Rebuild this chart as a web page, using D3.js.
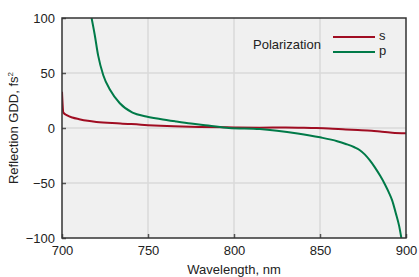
<!DOCTYPE html>
<html>
<head>
<meta charset="utf-8">
<script src="https://cdn.jsdelivr.net/npm/d3@7"></script>
<style>
  body { margin: 0; background: #fff; }
  text { font-family: "Liberation Sans", Arial, sans-serif; fill: #222; }
</style>
</head>
<body>
<div id="chart"></div>
<script>
// Wavelength (nm) / GDD (fs^2)
const sWave = [700, 700.8, 703, 706, 710, 715, 720, 734, 750, 765, 780, 800, 815, 830, 845, 855, 865, 872, 880, 886, 892, 900];
const sGdd = [33, 14, 11.5, 9.5, 8, 6.5, 5.5, 4.2, 2.6, 1.6, 1, 0.5, 0.3, 0.5, 0, -0.4, -1.3, -1.8, -2.5, -3.5, -4.3, -4.8];

const pWave = [717.2, 719, 721, 724, 728, 733.6, 741, 749, 757, 766, 775, 785, 797, 815, 825, 837, 850, 860, 865, 870, 873, 876, 879, 882, 885, 888, 890, 892, 894, 896, 897.3];
const pGdd = [100, 85, 66, 48, 34.5, 22.5, 14, 10.5, 8.2, 6, 4, 2.3, 0, -1, -2.5, -5, -8.5, -12, -14.5, -17.5, -20, -24, -29.5, -36, -43.5, -52, -58.5, -66, -77, -89, -100];

const xTicks = [700, 750, 800, 850, 900];
const yTicks = [-100, -50, 0, 50, 100];

const series = [
  { name: "s", color: "#a00d22", wave: sWave, gdd: sGdd },
  { name: "p", color: "#007a48", wave: pWave, gdd: pGdd }
];

const W = 419, H = 277;
const margin = { top: 18, right: 13, bottom: 39, left: 62 };
const width = W - margin.left - margin.right;
const height = H - margin.top - margin.bottom;

const svg = d3.select("#chart").append("svg")
  .attr("width", W).attr("height", H);
const g = svg.append("g").attr("transform", `translate(${margin.left},${margin.top})`);

const x = d3.scaleLinear().domain([700, 900]).range([0, width]);
const y = d3.scaleLinear().domain([-100, 100]).range([height, 0]);

// plot background
g.append("rect").attr("width", width).attr("height", height).attr("fill", "#f0f0f0");

// grid
g.selectAll(".vgrid").data(xTicks.slice(1, -1)).enter().append("line")
  .attr("x1", d => x(d)).attr("x2", d => x(d)).attr("y1", 0).attr("y2", height)
  .attr("stroke", "#dadada").attr("stroke-width", 1.5);
g.selectAll(".hgrid").data(yTicks.slice(1, -1)).enter().append("line")
  .attr("y1", d => y(d)).attr("y2", d => y(d)).attr("x1", 0).attr("x2", width)
  .attr("stroke", "#dadada").attr("stroke-width", 1.5);

// clip lines to plot area
svg.append("clipPath").attr("id", "clip").append("rect").attr("width", width).attr("height", height);

const line = d3.line().x(d => x(d[0])).y(d => y(d[1])).curve(d3.curveMonotoneX);
series.forEach(s => {
  g.append("path")
    .datum(s.wave.map((w, i) => [w, s.gdd[i]]))
    .attr("clip-path", "url(#clip)")
    .attr("fill", "none").attr("stroke", s.color).attr("stroke-width", 2)
    .attr("d", line);
});

// axes
const xAxis = g.append("g").attr("transform", `translate(0,${height})`)
  .call(d3.axisBottom(x).tickValues(xTicks).tickSize(-4).tickPadding(8));
const yAxis = g.append("g")
  .call(d3.axisLeft(y).tickValues(yTicks).tickSize(-4).tickPadding(7));
[xAxis, yAxis].forEach(a => {
  a.select(".domain").remove();
  a.selectAll("line").attr("stroke", "#555").attr("stroke-width", 1.5);
  a.selectAll("text").style("font-family", "'Liberation Sans', Arial, sans-serif")
    .style("font-size", "13px").attr("fill", "#222");
});

// frame
g.append("rect").attr("width", width).attr("height", height)
  .attr("fill", "none").attr("stroke", "#333").attr("stroke-width", 1.5);

// axis labels
svg.append("text").attr("x", margin.left + width / 2).attr("y", 274)
  .attr("text-anchor", "middle").style("font-size", "13px").text("Wavelength, nm");

const yl = svg.append("text")
  .attr("transform", `translate(18,${margin.top + height / 2}) rotate(-90)`)
  .attr("text-anchor", "middle").style("font-size", "13px");
yl.append("tspan").text("Reflection GDD, fs");
yl.append("tspan").attr("dy", -5).style("font-size", "8px").text("2");

// legend
const lg = svg.append("g");
lg.append("text").attr("x", 253).attr("y", 49).style("font-size", "13px").text("Polarization");
series.forEach((s, i) => {
  const yy = 37 + i * 15;
  lg.append("line").attr("x1", 333).attr("x2", 375).attr("y1", yy).attr("y2", yy)
    .attr("stroke", s.color).attr("stroke-width", 2);
  lg.append("text").attr("x", 379).attr("y", yy + 3).style("font-size", "13px").text(s.name);
});
</script>
</body>
</html>
